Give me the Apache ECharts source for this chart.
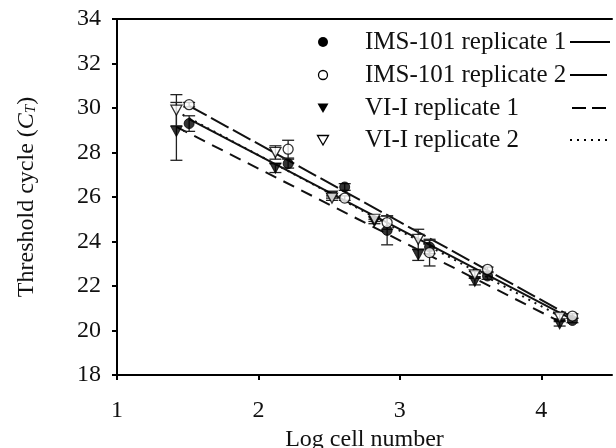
<!DOCTYPE html>
<html>
<head>
<meta charset="utf-8">
<script src="https://cdn.jsdelivr.net/npm/echarts@6/dist/echarts.min.js"></script>
<style>html,body{margin:0;padding:0;background:#fff;}#c{width:616px;height:448px;}</style>
</head>
<body>
<div id="c"></div>
<script>
// ---- data ----
const xIMS = [1.51, 2.21, 2.61, 2.91, 3.21, 3.62, 4.22];
const xVI  = [1.42, 2.12, 2.52, 2.82, 3.13, 3.53, 4.13];
const ims1 = [29.3, 27.5, 26.45, 24.5, 23.75, 22.45, 20.45];
const ims1Err = [0.35, 0.2, 0.15, 0.65, 0.3, 0.15, 0.1];
const ims2 = [30.15, 28.15, 25.95, 24.85, 23.5, 22.75, 20.65];
const ims2Err = [0.1, 0.4, 0.1, 0.3, 0.6, 0.1, 0.1];
const vi1 = [28.95, 27.3, 26.05, 24.9, 23.4, 22.2, 20.3];
const vi1Err = [1.3, 0.2, 0.1, 0.1, 0.25, 0.15, 0.1];
const vi2 = [29.9, 28.0, 25.95, 25.0, 24.1, 22.5, 20.6];
const vi2Err = [0.7, 0.3, 0.1, 0.1, 0.45, 0.15, 0.15];
// fitted lines: [x0, y0, x1, y1]
const fitIMS1 = [1.51, 29.5, 4.22, 20.5];
const fitIMS2 = [1.51, 30.1, 4.22, 20.6];
const fitVI1  = [1.42, 29.15, 4.13, 20.4];
const fitVI2  = [1.42, 29.85, 4.13, 20.65];
const names = ['IMS-101 replicate 1', 'IMS-101 replicate 2', 'VI-I replicate 1', 'VI-I replicate 2'];
const xTicks = [1, 2, 3, 4];

const FONT = '"Liberation Serif", "Times New Roman", serif';
const chart = echarts.init(document.getElementById('c'), null, {renderer: 'canvas'});

function pts(xs, ys) { return xs.map((x, i) => [x, ys[i]]); }
function errData(xs, ys, es) { return xs.map((x, i) => [x, ys[i] - es[i], ys[i] + es[i]]); }
function fitData(f) { return [[f[0], f[1]], [f[2], f[3]]]; }

function errSeries(xs, ys, es) {
  return {
    type: 'custom', silent: true, z: 3,
    data: errData(xs, ys, es),
    renderItem: function (params, api) {
      const lo = api.coord([api.value(0), api.value(1)]);
      const hi = api.coord([api.value(0), api.value(2)]);
      const w = 6;
      const st = {stroke: '#222', lineWidth: 1.3};
      return {type: 'group', children: [
        {type: 'line', shape: {x1: lo[0], y1: lo[1], x2: hi[0], y2: hi[1]}, style: st},
        {type: 'line', shape: {x1: lo[0] - w, y1: lo[1], x2: lo[0] + w, y2: lo[1]}, style: st},
        {type: 'line', shape: {x1: hi[0] - w, y1: hi[1], x2: hi[0] + w, y2: hi[1]}, style: st}
      ]};
    }
  };
}
function lineSeries(f, type) {
  return {type: 'line', data: fitData(f), symbol: 'none', silent: true, z: 2,
    lineStyle: {color: '#111', width: 2, type: type}};
}

const triDown = 'path://M0,0 L10,0 L5,9 Z';

const option = {
  animation: false,
  backgroundColor: '#fff',
  grid: {left: 117, right: 4, top: 19, bottom: 73, containLabel: false, outerBoundsMode: 'none'},
  xAxis: [{
    type: 'value', min: 1, max: 4.5, interval: 1,
    name: 'Log cell number', nameLocation: 'middle', nameGap: 52,
    nameTextStyle: {fontFamily: FONT, fontSize: 24, color: '#111'},
    axisLine: {lineStyle: {color: '#000', width: 2}},
    axisTick: {show: true, length: 5, inside: false, lineStyle: {color: '#000', width: 2}, customValues: xTicks},
    axisLabel: {fontFamily: FONT, fontSize: 24, color: '#111', margin: 24, customValues: xTicks},
    splitLine: {show: false}
  }, {
    type: 'value', position: 'top', min: 1, max: 4.5,
    axisLine: {show: true, lineStyle: {color: '#000', width: 2}},
    axisTick: {show: false}, axisLabel: {show: false}, splitLine: {show: false}
  }],
  yAxis: {
    type: 'value', min: 18, max: 34, interval: 2,
    name: 'Threshold cycle ({c|C}{t|T})', nameLocation: 'middle', nameGap: 78,
    nameTextStyle: {fontFamily: FONT, fontSize: 24, color: '#111',
      rich: {
        c: {fontFamily: FONT, fontSize: 24, fontStyle: 'italic', color: '#111'},
        t: {fontFamily: FONT, fontSize: 15, fontStyle: 'italic', color: '#111', padding: [9, 0, 0, 0]}
      }},
    axisLine: {show: true, lineStyle: {color: '#000', width: 2}},
    axisTick: {show: true, length: 5, lineStyle: {color: '#000', width: 2}},
    axisLabel: {fontFamily: FONT, fontSize: 24, color: '#111', margin: 16},
    splitLine: {show: false}
  },
  series: [
    lineSeries(fitIMS1, 'solid'),
    lineSeries(fitIMS2, [20, 5]),
    lineSeries(fitVI1, [12, 8]),
    lineSeries(fitVI2, [2, 5]),
    errSeries(xIMS, ims1, ims1Err),
    errSeries(xIMS, ims2, ims2Err),
    errSeries(xVI, vi1, vi1Err),
    errSeries(xVI, vi2, vi2Err),
    {name: names[0], type: 'scatter', data: pts(xIMS, ims1), symbol: 'circle', symbolSize: 10, z: 5,
      itemStyle: {color: '#000', borderColor: '#000', borderWidth: 1}},
    {name: names[1], type: 'scatter', data: pts(xIMS, ims2), symbol: 'circle', symbolSize: 10, z: 5,
      itemStyle: {color: '#fff', borderColor: '#000', borderWidth: 1.3}},
    {name: names[2], type: 'scatter', data: pts(xVI, vi1), symbol: triDown, symbolSize: [11, 10], z: 5,
      itemStyle: {color: '#000', borderColor: '#000', borderWidth: 1}},
    {name: names[3], type: 'scatter', data: pts(xVI, vi2), symbol: triDown, symbolSize: [11, 10], z: 5,
      itemStyle: {color: '#fff', borderColor: '#000', borderWidth: 1.3}}
  ],
  graphic: (function () {
    const rows = [42, 75, 108, 140];
    const els = [];
    const mx = 323, tx = 365;
    els.push({type: 'circle', shape: {cx: mx, cy: rows[0], r: 5}, style: {fill: '#000'}});
    els.push({type: 'circle', shape: {cx: mx, cy: rows[1], r: 4.5}, style: {fill: '#fff', stroke: '#000', lineWidth: 1.3}});
    els.push({type: 'polygon', shape: {points: [[mx - 5.5, rows[2] - 4.5], [mx + 5.5, rows[2] - 4.5], [mx, rows[2] + 5]]}, style: {fill: '#000'}});
    els.push({type: 'polygon', shape: {points: [[mx - 5.5, rows[3] - 4.5], [mx + 5.5, rows[3] - 4.5], [mx, rows[3] + 5]]}, style: {fill: '#fff', stroke: '#000', lineWidth: 1.3}});
    names.forEach((n, i) => {
      els.push({type: 'text', x: tx, y: rows[i], style: {text: n, font: '25px ' + FONT, fill: '#111', verticalAlign: 'middle', align: 'left'}});
    });
    els.push({type: 'line', shape: {x1: 570, y1: rows[0], x2: 610, y2: rows[0]}, style: {stroke: '#000', lineWidth: 2.2}});
    els.push({type: 'line', shape: {x1: 570, y1: rows[1], x2: 607, y2: rows[1]}, style: {stroke: '#000', lineWidth: 2.2}});
    els.push({type: 'line', shape: {x1: 572, y1: rows[2], x2: 610, y2: rows[2]}, style: {stroke: '#000', lineWidth: 2.2, lineDash: [14, 6]}});
    els.push({type: 'line', shape: {x1: 570, y1: rows[3], x2: 610, y2: rows[3]}, style: {stroke: '#000', lineWidth: 2, lineDash: [2, 5]}});
    return els;
  })()
};
chart.setOption(option);
</script>
</body>
</html>
